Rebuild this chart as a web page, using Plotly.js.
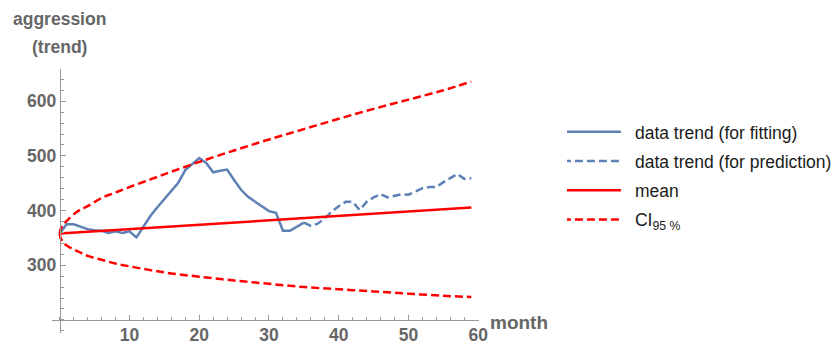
<!DOCTYPE html>
<html><head><meta charset="utf-8">
<script src="https://cdn.plot.ly/plotly-3.0.1.min.js"></script>
<style>html,body{margin:0;padding:0;background:#fff}#chart{width:834px;height:344px}</style>
</head><body><div id="chart"></div>
<script>
const fitMonths = [0,1,2,3,4,5,6,7,8,9,10,11,12,13,14,15,16,17,18,19,20,21,22,23,24,25,26,27,28,29,30,31,32,33,34,35];
const fitValues = [358,375,375,371,366,364,363,359,362,359,362,351,370,390,406,421,436,451,474,485,496,487,470,473,475,456,438,425,416,408,399,396,363,363,371,378];
const predMonths = [35,36,37,38,39,40,41,42,43,44,45,46,47,48,49,50,51,52,53,54,55,56,57,58,59];
const predValues = [378,372,376,386,398,408,416,416,401,416,424,430,424,427,430,429,435,441,443,443,452,460,467,458,459];
const meanMonths = [0,59];
const meanValues = [358,405.5];
const ciMonths = [0,0.1,0.25,0.5,1,2,3,4,6,8,10,13,16,20,25,30,35,40,45,50,55,59];
const ciUpper = [358,365,369,374,381,393,402,408,423,433,443,457,471,489,510,530,549,568,586,603,620,636];
const ciLower = [358,351,347,342,336,329,323,317,310,303,298,291,285,279,272,266,260,256,252,248,244,242];
const xTicks = [10,20,30,40,50,60];
const yTicks = [300,400,500,600];

const BLUE = '#5E81B5', RED = '#FF0000';
const FONT = 'Liberation Sans, Arial, sans-serif';
const traces = [
  {x: fitMonths, y: fitValues, mode: 'lines', name: 'data trend (for fitting)', legendgroup: 'a',
   line: {color: BLUE, width: 2.5}},
  {x: predMonths, y: predValues, mode: 'lines', name: 'data trend (for prediction)', legendgroup: 'b',
   line: {color: BLUE, width: 2.5, dash: '8px,4px'}},
  {x: meanMonths, y: meanValues, mode: 'lines', name: 'mean', legendgroup: 'c',
   line: {color: RED, width: 2.5}},
  {x: ciMonths, y: ciUpper, mode: 'lines', name: 'CI<sub>95 %</sub>', legendgroup: 'd',
   line: {color: RED, width: 2.5, dash: '8px,4px', shape: 'spline'}},
  {x: ciMonths, y: ciLower, mode: 'lines', name: 'CI lower', legendgroup: 'd', showlegend: false,
   line: {color: RED, width: 2.5, dash: '8px,4px', shape: 'spline'}}
];
const xr = [-1.1, 60.1], yr = [176, 659];
const tickFont = {family: FONT, size: 17.5, color: '#666', weight: 'bold'};
const legendLeftPx = 567, legendItemWidth = 58;
const layout = {
  width: 834, height: 344,
  margin: {l: 51.6, r: 355, t: 69, b: 11, pad: 0, autoexpand: false},
  paper_bgcolor: '#fff', plot_bgcolor: '#fff',
  showlegend: true,
  legend: {x: (legendLeftPx - 51.6) / 427.4, y: 0.83, xanchor: 'left', yanchor: 'top', traceorder: 'grouped',
    itemwidth: legendItemWidth, tracegroupgap: 3.5,
    font: {family: FONT, size: 17.5, color: '#1a1a1a'}, bgcolor: 'rgba(0,0,0,0)'},
  xaxis: {range: xr, anchor: 'free', position: (200 - yr[0]) / (yr[1] - yr[0]), showline: true,
    linecolor: '#999', linewidth: 1, ticks: 'inside', ticklen: 5, tickwidth: 1, tickcolor: '#999',
    tickmode: 'array', tickvals: xTicks, tickfont: tickFont, showgrid: false, zeroline: false, automargin: false,
    ticklabelstandoff: -1,
    minor: {ticks: 'inside', ticklen: 3, tickcolor: '#999', tickmode: 'linear', tick0: 0, dtick: 2, showgrid: false}},
  yaxis: {range: yr, anchor: 'free', position: (0 - xr[0]) / (xr[1] - xr[0]), showline: true,
    linecolor: '#999', linewidth: 1, ticks: 'inside', ticklen: 5, tickwidth: 1, tickcolor: '#999',
    tickmode: 'array', tickvals: yTicks, tickfont: tickFont, showgrid: false, zeroline: false, automargin: false,
    minor: {ticks: 'inside', ticklen: 3, tickcolor: '#999', tickmode: 'linear', tick0: 0, dtick: 20, showgrid: false}},
  annotations: [
    {text: 'aggression', xref: 'paper', yref: 'paper', x: 0.0173, y: 1.19, xanchor: 'center', yanchor: 'middle',
     showarrow: false, font: {family: FONT, size: 17.5, color: '#666', weight: 'bold'}},
    {text: '(trend)', xref: 'paper', yref: 'paper', x: 0.0173, y: 1.0846, xanchor: 'center', yanchor: 'middle',
     showarrow: false, font: {family: FONT, size: 17.5, color: '#666', weight: 'bold'}},
    {text: 'month', xref: 'paper', yref: 'paper', x: 1.094, y: 0.04, xanchor: 'center', yanchor: 'middle',
     showarrow: false, font: {family: FONT, size: 19, color: '#666', weight: 'bold'}}
  ]
};
Plotly.newPlot('chart', traces, layout, {displayModeBar: false, staticPlot: true}).then(function (gd) {
  // lengthen the legend line samples to the reference's wider swatches
  gd.querySelectorAll('.legend .legendlines path').forEach(function (p) {
    p.setAttribute('d', 'M-4,0h' + legendItemWidth);
  });
});
</script></body></html>
